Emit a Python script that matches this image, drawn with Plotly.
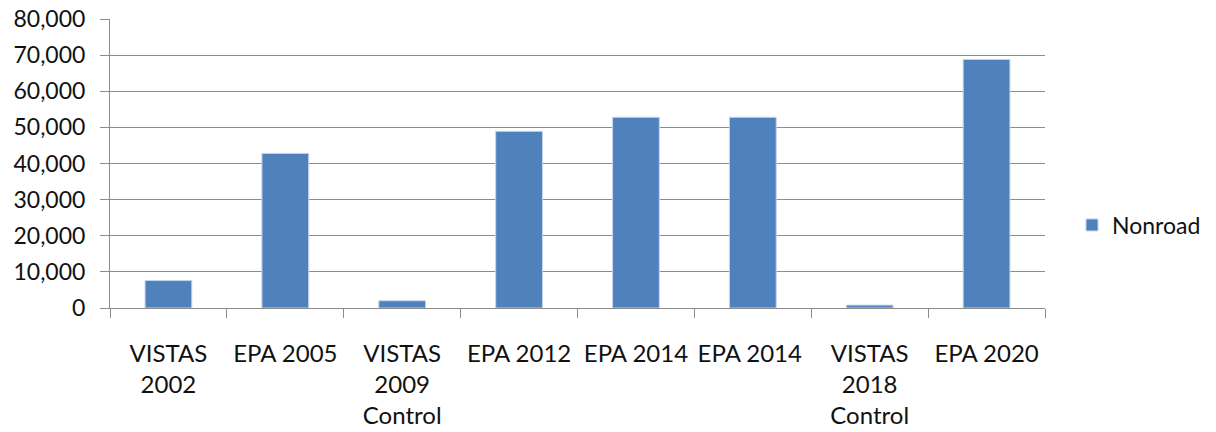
import plotly.graph_objects as go

categories = ["VISTAS<br>2002", "EPA 2005", "VISTAS<br>2009<br>Control", "EPA 2012",
              "EPA 2014", "EPA 2014 ", "VISTAS<br>2018<br>Control", "EPA 2020"]
nonroad = [7600, 42800, 2000, 48900, 52800, 52800, 800, 68800]
y_ticks = [0, 10000, 20000, 30000, 40000, 50000, 60000, 70000, 80000]

FONT = "Lato"
GRID = "#8c8c8c"

fig = go.Figure()
fig.add_trace(go.Bar(
    x=categories, y=nonroad, name="Nonroad",
    marker=dict(color="#4F81BD", line=dict(color="#c5d3e8", width=1)),
))

fig.update_layout(
    width=1216, height=432,
    margin=dict(l=110, r=171, t=19, b=124, autoexpand=False),
    paper_bgcolor="white", plot_bgcolor="white",
    font=dict(family=FONT, size=23, color="#111111"),
    bargap=0.6,
    showlegend=True,
    legend=dict(xref="container", yref="container", x=1072/1216, y=1-225/432,
                xanchor="left", yanchor="middle", font=dict(size=23),
                bgcolor="rgba(0,0,0,0)", itemwidth=30),
)
fig.update_xaxes(
    type="category", showline=True, linecolor=GRID, linewidth=1,
    ticks="outside", tickson="boundaries", ticklen=9, tickcolor=GRID,
    showgrid=False, ticklabelstandoff=24, tickangle=0, automargin=False,
    tickfont=dict(size=24),
)
fig.update_yaxes(
    range=[0, 80000], tickvals=y_ticks, tickformat=",",
    showline=True, linecolor=GRID, linewidth=1,
    ticks="outside", ticklen=9, tickcolor=GRID,
    showgrid=True, gridcolor=GRID, gridwidth=1, zeroline=False,
    ticklabelstandoff=10, automargin=False,
)

fig.write_html("out.html")
